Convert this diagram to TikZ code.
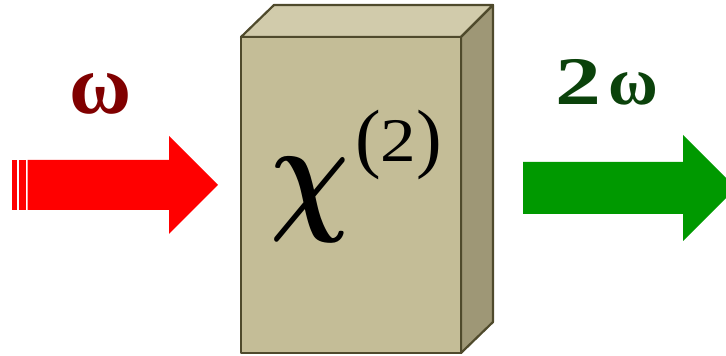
\documentclass[tikz,border=0pt]{standalone}
\usepackage{fontspec}
\setmainfont{Liberation Serif}
\definecolor{boxfront}{HTML}{C4BD97}
\definecolor{boxtop}{HTML}{D1CBAB}
\definecolor{boxside}{HTML}{9E9776}
\definecolor{boxline}{HTML}{4F4A2C}
\definecolor{inred}{HTML}{FF0000}
\definecolor{outgreen}{HTML}{009900}
\definecolor{omegared}{HTML}{800000}
\definecolor{omegagreen}{HTML}{0B420B}
\tikzset{
  face/.style={draw=boxline, line width=2.2pt, line join=round},
  lbl/.style={inner sep=0pt, anchor=base},
}
\begin{document}
\begin{tikzpicture}[x=1pt,y=1pt]
\useasboundingbox (0,0) rectangle (726,356);
\clip (0,0) rectangle (726,356);
% red input arrow with stripes
\fill[inred] (12,146) rectangle (16.7,196);
\fill[inred] (18.7,146) rectangle (26,196);
\fill[inred] (27.7,146) -- (169,146) -- (169,122) -- (218,171) -- (169,220) -- (169,196) -- (27.7,196) -- cycle;
% green output arrow
\fill[outgreen] (523,142) -- (683,142) -- (683,115) -- (736,168) -- (683,221) -- (683,194) -- (523,194) -- cycle;
% crystal box
\filldraw[face, fill=boxtop] (241,319) -- (274,351) -- (493,351) -- (461,319) -- cycle;
\filldraw[face, fill=boxside] (461,319) -- (493,351) -- (493,34) -- (461,3) -- cycle;
\filldraw[face, fill=boxfront] (241,319) -- (461,319) -- (461,3) -- (241,3) -- cycle;
% labels
\node[lbl, text=omegared] (win) at (101,242) {\fontsize{85}{85}\selectfont\bfseries ω};
\node[inner sep=0pt, anchor=base west, text=omegagreen] (wout) at (555,251) {\fontsize{68}{68}\selectfont\bfseries \scalebox{1.35}[1]{2}\kern7pt ω};
\node[inner sep=0pt, anchor=base west] (chi) at (270,139) {\scalebox{11}[13.3]{\mathversion{bold}$\chi$}};
\node[inner sep=0pt, anchor=base west] (sus) at (355,192) {\fontsize{77}{77}\selectfont (\raisebox{2pt}{\scalebox{1.15}[1]{\fontsize{62}{62}\selectfont 2}})};
\end{tikzpicture}
\end{document}
